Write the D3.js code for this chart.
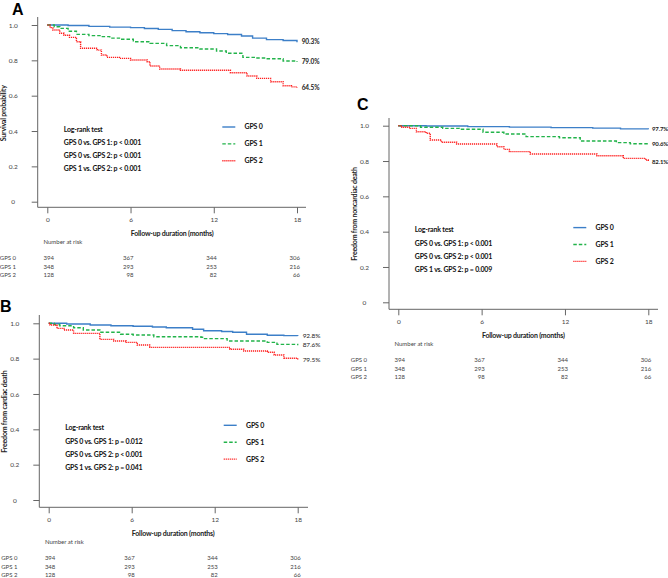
<!DOCTYPE html>
<html><head><meta charset="utf-8">
<script src="https://cdn.jsdelivr.net/npm/d3@7"></script>
<style>
body{margin:0;background:#fff;}
svg{display:block;font-family:Lato,"Open Sans",sans-serif;}
</style></head>
<body><svg id="c" width="668" height="578"></svg>
<script>
// ---- data ----
const groups = ["GPS 0","GPS 1","GPS 2"];
const xTicks = [0,6,12,18];
const yTicks = [0,0.2,0.4,0.6,0.8,1.0];
const yTickLabels = ["0","0.2","0.4","0.6","0.8","1.0"];
const atRisk0 = [394,367,344,306];
const atRisk1 = [348,293,253,216];
const atRisk2 = [128,98,82,66];

// Panel A: survival
const a0_t = [0,1.5,3,4.5,6,7,8,9,10,11,12,13,14,14.8,15.8,17,18];
const a0_s = [1.0,0.997,0.992,0.988,0.985,0.98,0.975,0.968,0.962,0.956,0.951,0.946,0.938,0.926,0.917,0.912,0.903];
const a1_t = [0,0.5,0.9,1.5,2.1,3,3.8,4.5,5.2,6.2,7.4,8.6,9.6,11,12.2,12.9,14.1,15,15.8,17,18];
const a1_s = [1.0,0.99,0.981,0.965,0.947,0.94,0.934,0.926,0.919,0.905,0.896,0.883,0.871,0.864,0.853,0.84,0.817,0.813,0.809,0.796,0.79];
const a2_t = [0,0.2,0.4,0.9,1.2,1.6,2.1,2.4,3.6,3.9,4.3,5.2,6,7.2,7.4,8.1,9.6,12.9,13.2,14.4,15.1,16.1,17,17.6,18];
const a2_s = [1.0,0.985,0.972,0.953,0.942,0.93,0.905,0.868,0.858,0.83,0.817,0.811,0.802,0.792,0.768,0.751,0.744,0.744,0.73,0.711,0.698,0.679,0.656,0.65,0.645];
const aEnd = ["90.3%","79.0%","64.5%"];
const aP = ["GPS 0 vs. GPS 1: p < 0.001","GPS 0 vs. GPS 2: p < 0.001","GPS 1 vs. GPS 2: p < 0.001"];

// Panel B: cardiac death
const b0_t = [0,1.3,3,4.5,6.1,7.5,8.5,10.4,11.2,12.5,13.3,14.3,15.8,17,18];
const b0_s = [1.0,0.996,0.99,0.986,0.983,0.979,0.975,0.966,0.958,0.954,0.949,0.938,0.932,0.93,0.928];
const b1_t = [0,0.4,0.8,1.8,2.5,3.7,5.2,6.1,7.6,11,11.2,12.9,15.8,16.5,18];
const b1_s = [1.0,0.993,0.986,0.975,0.962,0.949,0.938,0.934,0.924,0.921,0.913,0.9,0.892,0.881,0.876];
const b2_t = [0,0.1,0.6,1.1,1.8,3.7,4.7,5.6,6.4,7.3,13.1,14.1,15.8,16.3,17,18];
const b2_s = [1.0,0.99,0.971,0.962,0.943,0.909,0.9,0.892,0.877,0.864,0.853,0.843,0.836,0.821,0.802,0.795];
const bEnd = ["92.8%","87.6%","79.5%"];
const bP = ["GPS 0 vs. GPS 1: p = 0.012","GPS 0 vs. GPS 2: p < 0.001","GPS 1 vs. GPS 2: p = 0.041"];

// Panel C: noncardiac death
const c0_t = [0,2,5,8,11,14,16,18];
const c0_s = [1.0,0.998,0.995,0.992,0.989,0.986,0.982,0.98];
const c1_t = [0,1,1.6,3.2,4.4,6.1,7.6,9.2,11.6,13.1,15.7,16.7,18];
const c1_s = [1.0,1.0,0.991,0.985,0.98,0.963,0.953,0.938,0.932,0.913,0.904,0.898,0.897];
const c2_t = [0,0.25,0.85,1.3,2,2.3,3.1,4.2,7.1,7.6,8,9.5,14.3,16.2,17.8,18];
const c2_s = [1.0,0.991,0.985,0.966,0.957,0.919,0.906,0.896,0.881,0.866,0.853,0.84,0.83,0.815,0.806,0.796];
const cEnd = ["97.7%","90.6%","82.1%"];
const cP = ["GPS 0 vs. GPS 1: p < 0.001","GPS 0 vs. GPS 2: p < 0.001","GPS 1 vs. GPS 2: p = 0.009"];

// ---- styles ----
const colors = ["#3c7fc8","#22b34a","#ff1e1e"];
const dashes = [null,"3.5,2","1.2,0.8"];
const svg = d3.select("#c");
const axisCol = "#666", txtCol = "#444";
const bodyFont = 7, bodyLS = -0.2;

const panels = [
  {letter:"A", lx:12, ly:15, ax:37.7, xr:[47.3,297], yr:[201.7,25], xay:207.3, xend:306, ytop:17,
   title:"Survival probability", series:[[a0_t,a0_s],[a1_t,a1_s],[a2_t,a2_s]], end:aEnd, p:aP, boldEnd:true, endDx:4.7, endFs:6.5},
  {letter:"B", lx:0, ly:312, ax:39.3, xr:[48.7,297.7], yr:[500,323.3], xay:507.3, xend:308, ytop:315,
   title:"Freedom from cardiac death", series:[[b0_t,b0_s],[b1_t,b1_s],[b2_t,b2_s]], end:bEnd, p:bP, boldEnd:false, endDx:5, endFs:6.5},
  {letter:"C", lx:357, ly:110, ax:389, xr:[398.3,648.3], yr:[302.3,125.7], xay:309.3, xend:658, ytop:118,
   title:"Freedom from noncardiac death", series:[[c0_t,c0_s],[c1_t,c1_s],[c2_t,c2_s]], end:cEnd, p:cP, boldEnd:true, endDx:3.6, endFs:6}
];

panels.forEach(P => {
  const g = svg.append("g");
  const x = d3.scaleLinear().domain([0,18]).range(P.xr);
  const y = d3.scaleLinear().domain([0,1]).range(P.yr);
  const x0 = P.xr[0], y0 = P.yr[0];

  // letter
  g.append("text").attr("x",P.lx).attr("y",P.ly).text(P.letter)
    .attr("font-family","Liberation Sans, Arial, sans-serif").attr("font-weight","bold").attr("font-size",16).attr("fill","#000");

  // y axis
  g.append("line").attr("x1",P.ax).attr("x2",P.ax).attr("y1",P.ytop).attr("y2",P.xay).attr("stroke",axisCol);
  const ya = g.append("g").attr("transform",`translate(${P.ax},0)`)
    .call(d3.axisLeft(y).tickValues(yTicks).tickSize(6).tickFormat((d,i)=>yTickLabels[i]));
  ya.select(".domain").remove();
  ya.selectAll(".tick line").attr("stroke",axisCol);
  ya.selectAll(".tick text").attr("x",-24.5).attr("text-anchor","middle").attr("dy","0.35em")
    .attr("font-size",6.5).attr("fill",txtCol).attr("font-family","Lato, sans-serif");

  // x axis
  g.append("line").attr("x1",P.ax).attr("x2",P.xend).attr("y1",P.xay).attr("y2",P.xay).attr("stroke",axisCol);
  const xa = g.append("g").attr("transform",`translate(0,${P.xay})`)
    .call(d3.axisBottom(x).tickValues(xTicks).tickSize(6).tickFormat(d3.format("d")));
  xa.select(".domain").remove();
  xa.selectAll(".tick line").attr("stroke",axisCol);
  xa.selectAll(".tick text").attr("y",15).attr("dy",0).attr("font-size",6.5).attr("fill",txtCol).attr("font-family","Lato, sans-serif");

  g.append("text").attr("x",(P.xr[0]+P.xr[1])/2).attr("y",P.xay+29).attr("text-anchor","middle")
    .attr("font-size",bodyFont).attr("letter-spacing",bodyLS).attr("font-weight","bold").attr("fill","#222").text("Follow-up duration (months)");

  // y title
  g.append("text").attr("transform",`translate(${P.ax-32},${(P.yr[0]+P.yr[1])/2}) rotate(-90)`)
    .attr("text-anchor","middle").attr("font-size",bodyFont).attr("letter-spacing",bodyLS).attr("font-weight","bold").attr("fill","#222").text(P.title);

  // curves
  const line = d3.line().x(d=>x(d[0])).y(d=>y(d[1])).curve(d3.curveStepAfter);
  P.series.forEach((s,i) => {
    const pts = s[0].map((t,j)=>[t,s[1][j]]);
    g.append("path").datum(pts).attr("d",line).attr("fill","none")
      .attr("stroke",colors[i]).attr("stroke-width",1.4).attr("stroke-dasharray",dashes[i]);
    g.append("text").attr("x",x(18)+P.endDx).attr("y",y(s[1][s[1].length-1])).attr("dy","0.35em")
      .attr("font-size",P.endFs).attr("letter-spacing",-0.1).attr("font-weight",P.boldEnd?"bold":"normal").attr("fill","#222").text(P.end[i]);
  });

  // log-rank
  g.append("text").attr("x",x0+16.5).attr("y",y0-70).attr("font-size",bodyFont).attr("letter-spacing",bodyLS).attr("font-weight","bold").attr("fill","#111").text("Log-rank test");
  P.p.forEach((t,i)=>{
    g.append("text").attr("x",x0+16.5).attr("y",y0-56.5+13*i).attr("font-size",bodyFont).attr("letter-spacing",bodyLS).attr("font-weight","bold").attr("fill","#111").text(t);
  });

  // legend
  groups.forEach((name,i)=>{
    const ly = y0-74.7+16.9*i;
    g.append("line").attr("x1",x0+175).attr("x2",x0+188).attr("y1",ly).attr("y2",ly)
      .attr("stroke",colors[i]).attr("stroke-width",1.4).attr("stroke-dasharray",dashes[i]);
    g.append("text").attr("x",x0+197.3).attr("y",ly).attr("dy","0.35em").attr("font-size",bodyFont).attr("letter-spacing",bodyLS).attr("font-weight","bold").attr("fill","#111").text(name);
  });

  // number at risk
  g.append("text").attr("x",x0-3.8).attr("y",P.xay+37).attr("font-size",6).attr("fill",txtCol).text("Number at risk");
  [atRisk0,atRisk1,atRisk2].forEach((row,i)=>{
    const ry = P.xay+53+8.4*i;
    g.append("text").attr("x",x0-47.5).attr("y",ry).attr("font-size",6).attr("fill",txtCol).text(groups[i]);
    row.forEach((v,j)=>{
      g.append("text").attr("x",x(xTicks[j])+(j===0?-3.8:3)).attr("y",ry)
        .attr("text-anchor",j===0?"start":"end").attr("font-size",6).attr("fill",txtCol).text(v);
    });
  });
});
</script></body></html>
